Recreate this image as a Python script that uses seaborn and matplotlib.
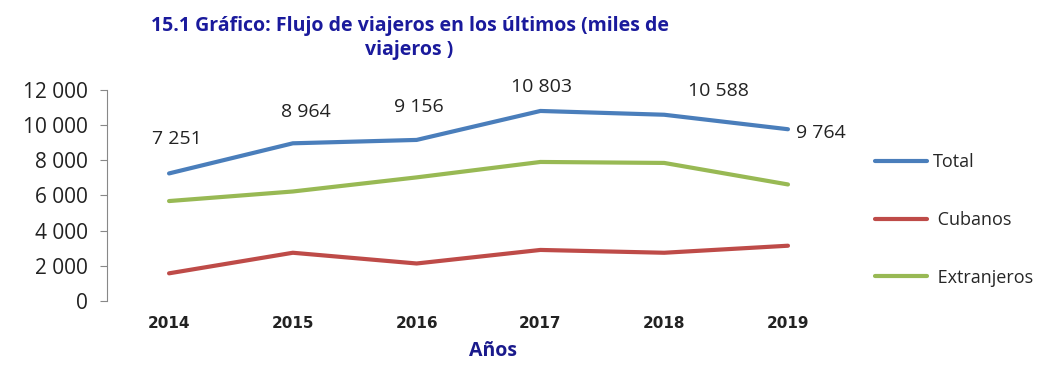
import pandas as pd
import numpy as np
import seaborn as sns
import matplotlib.pyplot as plt

# Datos (miles de viajeros)
anios = [2014, 2015, 2016, 2017, 2018, 2019]
total = [7251, 8964, 9156, 10803, 10588, 9764]
cubanos = [1570, 2740, 2130, 2900, 2740, 3140]
extranjeros = [5680, 6224, 7026, 7903, 7848, 6624]
series = ['Total', ' Cubanos', ' Extranjeros']
colores = ['#4A7EBB', '#BE4B48', '#98B954']

df = pd.DataFrame({
    'Año': anios * 3,
    'Viajeros': total + cubanos + extranjeros,
    'Serie': np.repeat(series, len(anios)),
})

sns.set_style('white')
plt.rcParams['font.family'] = ['Open Sans', 'DejaVu Sans']

fig = plt.figure(figsize=(10.61, 3.67), dpi=100)
ax = fig.add_axes([0.101, 0.18, 0.70, 0.575])
sns.lineplot(data=df, x='Año', y='Viajeros', hue='Serie', palette=colores,
             linewidth=3, ax=ax, legend=True)

ax.set_xlim(2013.5, 2019.5)
ax.set_ylim(0, 12000)
ax.set_yticks(range(0, 12001, 2000))
ax.set_yticklabels([f'{v:,}'.replace(',', ' ') for v in range(0, 12001, 2000)], fontsize=15, color='#222222')
ax.set_xticks(anios)
ax.set_xticklabels([str(a) for a in anios], fontsize=11, fontweight='bold', color='#222222',
                   family='DejaVu Sans')
ax.tick_params(axis='y', length=5, color='#888888', left=True, pad=9)
ax.tick_params(axis='x', length=0, pad=11)
for s in ['top', 'right', 'bottom']:
    ax.spines[s].set_visible(False)
ax.spines['left'].set_color('#888888')
ax.set_ylabel('')
ax.set_xlabel('Años', fontsize=14, fontweight='bold', color='#1a1a8c')
ax.xaxis.set_label_coords(0.52, -0.19)

# Etiquetas de datos del total (desplazamiento en píxeles)
offsets = [(8, 34), (13, 31), (2, 33), (1, 24), (54, 24), (33, -4)]
for a, v, (dx, dy) in zip(anios, total, offsets):
    ax.annotate(f'{v:,}'.replace(',', ' '), (a, v), xytext=(dx, dy), textcoords='offset pixels',
                ha='center', va='center', fontsize=14, color='#222222')

ax.legend(loc='center left', bbox_to_anchor=(1.012, 0.384), frameon=False,
          fontsize=13, handlelength=2.9, labelspacing=2.2, handletextpad=0.3)

fig.text(0.386, 0.897, '15.1 Gráfico: Flujo de viajeros en los últimos (miles de\nviajeros )',
         ha='center', va='center', fontsize=14, fontweight='bold', color='#1a1a9c',
         linespacing=1.3)

fig.savefig('out.png', dpi=100)
